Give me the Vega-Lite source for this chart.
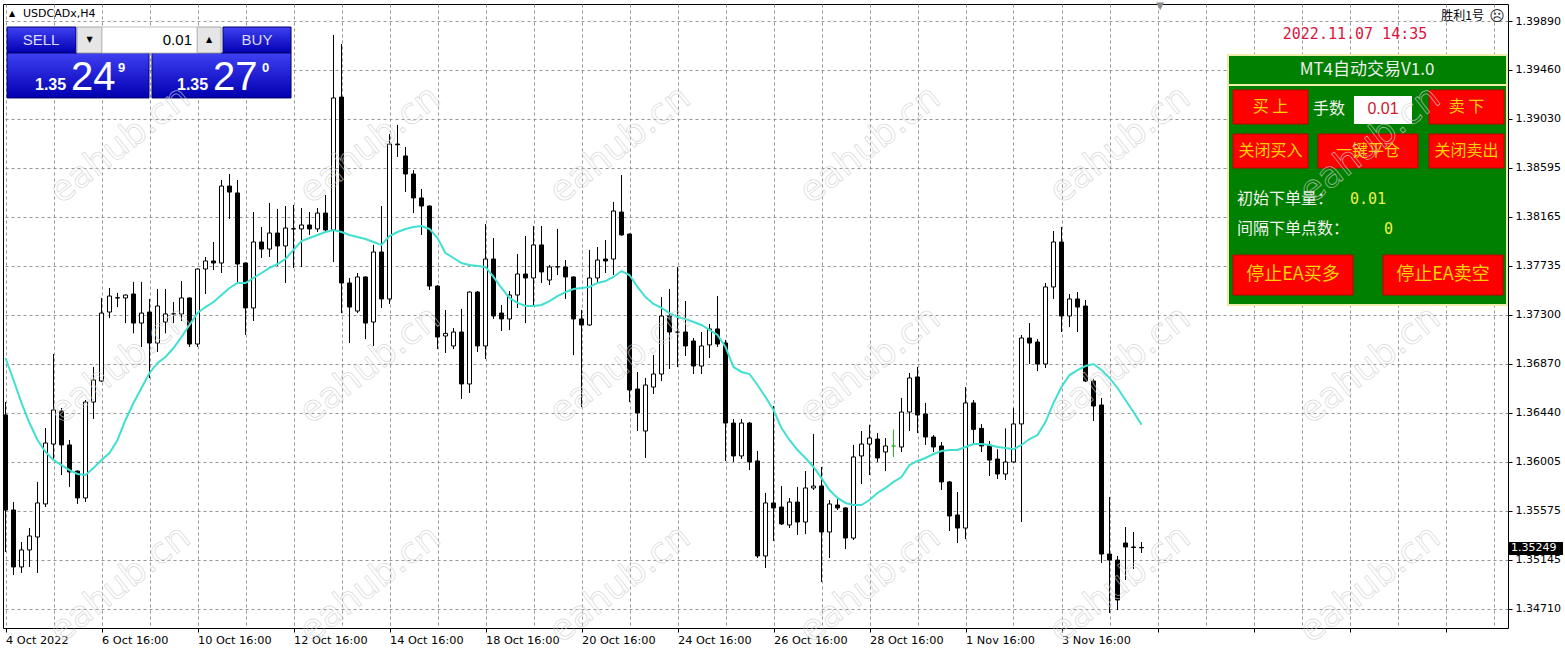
{
  "$schema": "https://vega.github.io/schema/vega-lite/v6.json",
  "width": 1505,
  "height": 624,
  "autosize": {"type": "none"},
  "padding": {"left": 3, "top": 4, "right": 57, "bottom": 26},
  "background": "white",
  "config": {
    "view": {"stroke": "black", "strokeWidth": 1},
    "scale": {"continuousPadding": 0},
    "axis": {
      "grid": true, "gridColor": "#959595", "gridDash": [3, 3], "gridWidth": 1,
      "domain": false, "tickColor": "black", "tickSize": 4,
      "labelFont": "DejaVu Sans", "labelFontSize": 11, "labelColor": "black",
      "labelFlush": false, "labelOverlap": false
    },
    "axisX": {"labelAlign": "left", "labelBaseline": "top", "labelPadding": 2, "labelFontSize": 11.3},
    "axisY": {"labelAlign": "left", "labelBaseline": "middle", "labelPadding": 3}
  },
  "datasets": {
    "bars": [
      {"i":0,"o":1.36419,"h":1.36533,"l":1.35212,"c":1.35582},
      {"i":1,"o":1.35582,"h":1.35652,"l":1.35009,"c":1.35080},
      {"i":2,"o":1.35080,"h":1.35300,"l":1.35027,"c":1.35230},
      {"i":3,"o":1.35230,"h":1.35423,"l":1.35080,"c":1.35353},
      {"i":4,"o":1.35344,"h":1.35829,"l":1.35027,"c":1.35644},
      {"i":5,"o":1.35635,"h":1.36304,"l":1.35608,"c":1.36172},
      {"i":6,"o":1.36163,"h":1.36956,"l":1.36022,"c":1.36463},
      {"i":7,"o":1.36454,"h":1.36481,"l":1.35890,"c":1.36155},
      {"i":8,"o":1.36155,"h":1.36199,"l":1.35785,"c":1.35917},
      {"i":9,"o":1.35925,"h":1.35930,"l":1.35635,"c":1.35688},
      {"i":10,"o":1.35688,"h":1.36551,"l":1.35652,"c":1.36533},
      {"i":11,"o":1.36533,"h":1.36842,"l":1.36384,"c":1.36727},
      {"i":12,"o":1.36718,"h":1.37450,"l":1.36710,"c":1.37317},
      {"i":13,"o":1.37326,"h":1.37538,"l":1.37273,"c":1.37467},
      {"i":14,"o":1.37452,"h":1.37494,"l":1.37370,"c":1.37450},
      {"i":15,"o":1.37450,"h":1.37480,"l":1.37229,"c":1.37476},
      {"i":16,"o":1.37485,"h":1.37591,"l":1.37138,"c":1.37229},
      {"i":17,"o":1.37229,"h":1.37591,"l":1.37018,"c":1.37317},
      {"i":18,"o":1.37326,"h":1.37441,"l":1.36745,"c":1.37053},
      {"i":19,"o":1.37053,"h":1.37529,"l":1.36974,"c":1.37379},
      {"i":20,"o":1.37238,"h":1.37529,"l":1.37138,"c":1.37309},
      {"i":21,"o":1.37309,"h":1.37414,"l":1.37229,"c":1.37311},
      {"i":22,"o":1.37309,"h":1.37599,"l":1.37247,"c":1.37450},
      {"i":23,"o":1.37450,"h":1.37455,"l":1.37018,"c":1.37044},
      {"i":24,"o":1.37044,"h":1.37710,"l":1.37018,"c":1.37705},
      {"i":25,"o":1.37705,"h":1.37811,"l":1.37485,"c":1.37776},
      {"i":26,"o":1.37776,"h":1.37943,"l":1.37696,"c":1.37758},
      {"i":27,"o":1.37758,"h":1.38489,"l":1.37670,"c":1.38436},
      {"i":28,"o":1.38436,"h":1.38542,"l":1.38146,"c":1.38383},
      {"i":29,"o":1.38375,"h":1.38489,"l":1.37582,"c":1.37749},
      {"i":30,"o":1.37758,"h":1.37763,"l":1.37124,"c":1.37362},
      {"i":31,"o":1.37362,"h":1.38207,"l":1.37247,"c":1.37943},
      {"i":32,"o":1.37943,"h":1.38075,"l":1.37802,"c":1.37881},
      {"i":33,"o":1.37881,"h":1.38287,"l":1.37811,"c":1.38022},
      {"i":34,"o":1.38022,"h":1.38234,"l":1.37732,"c":1.37908},
      {"i":35,"o":1.37908,"h":1.38260,"l":1.37582,"c":1.38066},
      {"i":36,"o":1.38058,"h":1.38269,"l":1.37714,"c":1.38060},
      {"i":37,"o":1.38058,"h":1.38242,"l":1.37723,"c":1.38093},
      {"i":38,"o":1.38093,"h":1.38207,"l":1.38005,"c":1.38058},
      {"i":39,"o":1.38058,"h":1.38242,"l":1.38031,"c":1.38198},
      {"i":40,"o":1.38198,"h":1.38357,"l":1.38022,"c":1.38049},
      {"i":41,"o":1.38049,"h":1.39767,"l":1.37767,"c":1.39212},
      {"i":42,"o":1.39220,"h":1.39687,"l":1.37317,"c":1.37582},
      {"i":43,"o":1.37582,"h":1.37626,"l":1.37053,"c":1.37370},
      {"i":44,"o":1.37335,"h":1.37670,"l":1.37317,"c":1.37635},
      {"i":45,"o":1.37635,"h":1.37640,"l":1.37088,"c":1.37229},
      {"i":46,"o":1.37238,"h":1.37917,"l":1.37027,"c":1.37855},
      {"i":47,"o":1.37855,"h":1.38260,"l":1.37362,"c":1.37441},
      {"i":48,"o":1.37441,"h":1.38894,"l":1.37397,"c":1.38806},
      {"i":49,"o":1.38806,"h":1.38974,"l":1.38692,"c":1.38800},
      {"i":50,"o":1.38701,"h":1.38780,"l":1.38383,"c":1.38542},
      {"i":51,"o":1.38542,"h":1.38577,"l":1.38198,"c":1.38331},
      {"i":52,"o":1.38331,"h":1.38410,"l":1.38005,"c":1.38260},
      {"i":53,"o":1.38260,"h":1.38265,"l":1.37520,"c":1.37555},
      {"i":54,"o":1.37555,"h":1.37564,"l":1.37000,"c":1.37106},
      {"i":55,"o":1.37115,"h":1.37344,"l":1.36965,"c":1.37138},
      {"i":56,"o":1.37027,"h":1.37185,"l":1.37000,"c":1.37150},
      {"i":57,"o":1.37150,"h":1.37353,"l":1.36560,"c":1.36692},
      {"i":58,"o":1.36692,"h":1.37507,"l":1.36613,"c":1.37502},
      {"i":59,"o":1.37502,"h":1.37511,"l":1.36974,"c":1.37027},
      {"i":60,"o":1.37027,"h":1.38101,"l":1.36912,"c":1.37793},
      {"i":61,"o":1.37793,"h":1.37978,"l":1.37265,"c":1.37291},
      {"i":62,"o":1.37317,"h":1.37388,"l":1.37159,"c":1.37265},
      {"i":63,"o":1.37265,"h":1.37511,"l":1.37168,"c":1.37476},
      {"i":64,"o":1.37476,"h":1.37837,"l":1.37362,"c":1.37661},
      {"i":65,"o":1.37661,"h":1.37996,"l":1.37229,"c":1.37626},
      {"i":66,"o":1.37626,"h":1.38084,"l":1.37379,"c":1.37917},
      {"i":67,"o":1.37917,"h":1.38084,"l":1.37582,"c":1.37679},
      {"i":68,"o":1.37608,"h":1.37740,"l":1.37564,"c":1.37723},
      {"i":69,"o":1.37723,"h":1.38058,"l":1.37652,"c":1.37725},
      {"i":70,"o":1.37723,"h":1.37784,"l":1.37441,"c":1.37635},
      {"i":71,"o":1.37635,"h":1.37640,"l":1.36947,"c":1.37265},
      {"i":72,"o":1.37265,"h":1.37344,"l":1.36489,"c":1.37212},
      {"i":73,"o":1.37212,"h":1.37873,"l":1.37205,"c":1.37626},
      {"i":74,"o":1.37626,"h":1.37899,"l":1.37582,"c":1.37784},
      {"i":75,"o":1.37793,"h":1.37961,"l":1.37670,"c":1.37776},
      {"i":76,"o":1.37793,"h":1.38295,"l":1.37652,"c":1.38216},
      {"i":77,"o":1.38207,"h":1.38533,"l":1.38000,"c":1.38005},
      {"i":78,"o":1.38013,"h":1.38018,"l":1.36533,"c":1.36639},
      {"i":79,"o":1.36648,"h":1.36798,"l":1.36278,"c":1.36437},
      {"i":80,"o":1.36278,"h":1.36745,"l":1.36040,"c":1.36683},
      {"i":81,"o":1.36665,"h":1.36947,"l":1.36604,"c":1.36780},
      {"i":82,"o":1.36780,"h":1.37458,"l":1.36718,"c":1.37291},
      {"i":83,"o":1.37291,"h":1.37529,"l":1.36824,"c":1.37150},
      {"i":84,"o":1.37150,"h":1.37723,"l":1.36842,"c":1.37148},
      {"i":85,"o":1.37150,"h":1.37423,"l":1.36939,"c":1.37027},
      {"i":86,"o":1.37071,"h":1.37097,"l":1.36780,"c":1.36850},
      {"i":87,"o":1.36850,"h":1.37150,"l":1.36780,"c":1.37027},
      {"i":88,"o":1.37036,"h":1.37221,"l":1.36921,"c":1.37177},
      {"i":89,"o":1.37177,"h":1.37467,"l":1.37018,"c":1.37044},
      {"i":90,"o":1.37053,"h":1.37080,"l":1.36014,"c":1.36348},
      {"i":91,"o":1.36348,"h":1.36384,"l":1.36005,"c":1.36058},
      {"i":92,"o":1.36058,"h":1.36384,"l":1.36031,"c":1.36348},
      {"i":93,"o":1.36348,"h":1.36357,"l":1.35934,"c":1.36005},
      {"i":94,"o":1.36014,"h":1.36102,"l":1.35159,"c":1.35177},
      {"i":95,"o":1.35177,"h":1.35732,"l":1.35071,"c":1.35644},
      {"i":96,"o":1.35644,"h":1.36498,"l":1.35309,"c":1.35600},
      {"i":97,"o":1.35608,"h":1.35793,"l":1.35450,"c":1.35459},
      {"i":98,"o":1.35450,"h":1.35688,"l":1.35423,"c":1.35652},
      {"i":99,"o":1.35652,"h":1.35785,"l":1.35362,"c":1.35476},
      {"i":100,"o":1.35476,"h":1.35925,"l":1.35370,"c":1.35776},
      {"i":101,"o":1.35776,"h":1.36251,"l":1.35758,"c":1.35793},
      {"i":102,"o":1.35793,"h":1.35961,"l":1.34948,"c":1.35388},
      {"i":103,"o":1.35388,"h":1.35670,"l":1.35159,"c":1.35635},
      {"i":104,"o":1.35626,"h":1.35688,"l":1.35582,"c":1.35600},
      {"i":105,"o":1.35600,"h":1.35605,"l":1.35238,"c":1.35335},
      {"i":106,"o":1.35335,"h":1.36155,"l":1.35318,"c":1.36049},
      {"i":107,"o":1.36058,"h":1.36278,"l":1.35811,"c":1.36163},
      {"i":108,"o":1.36163,"h":1.36333,"l":1.35890,"c":1.36216},
      {"i":109,"o":1.36207,"h":1.36260,"l":1.36005,"c":1.36040},
      {"i":110,"o":1.36093,"h":1.36216,"l":1.35925,"c":1.36146},
      {"i":111,"o":1.36146,"h":1.36292,"l":1.36049,"c":1.36146},
      {"i":112,"o":1.36137,"h":1.36569,"l":1.36093,"c":1.36445},
      {"i":113,"o":1.36445,"h":1.36789,"l":1.36278,"c":1.36745},
      {"i":114,"o":1.36754,"h":1.36842,"l":1.36260,"c":1.36419},
      {"i":115,"o":1.36428,"h":1.36525,"l":1.36155,"c":1.36225},
      {"i":116,"o":1.36225,"h":1.36242,"l":1.36093,"c":1.36137},
      {"i":117,"o":1.36146,"h":1.36181,"l":1.35758,"c":1.35829},
      {"i":118,"o":1.35829,"h":1.35837,"l":1.35397,"c":1.35529},
      {"i":119,"o":1.35538,"h":1.35740,"l":1.35291,"c":1.35423},
      {"i":120,"o":1.35423,"h":1.36665,"l":1.35326,"c":1.36525},
      {"i":121,"o":1.36525,"h":1.36551,"l":1.36155,"c":1.36292},
      {"i":122,"o":1.36301,"h":1.36340,"l":1.36093,"c":1.36146},
      {"i":123,"o":1.36155,"h":1.36190,"l":1.35881,"c":1.36022},
      {"i":124,"o":1.36031,"h":1.36118,"l":1.35855,"c":1.35899},
      {"i":125,"o":1.35899,"h":1.36301,"l":1.35846,"c":1.36005},
      {"i":126,"o":1.36005,"h":1.36481,"l":1.35996,"c":1.36340},
      {"i":127,"o":1.36340,"h":1.37124,"l":1.35476,"c":1.37097},
      {"i":128,"o":1.37097,"h":1.37229,"l":1.36868,"c":1.37053},
      {"i":129,"o":1.37062,"h":1.37088,"l":1.36806,"c":1.36868},
      {"i":130,"o":1.36868,"h":1.37582,"l":1.36833,"c":1.37547},
      {"i":131,"o":1.37547,"h":1.38040,"l":1.37441,"c":1.37943},
      {"i":132,"o":1.37943,"h":1.38075,"l":1.37150,"c":1.37291},
      {"i":133,"o":1.37291,"h":1.37485,"l":1.37194,"c":1.37441},
      {"i":134,"o":1.37441,"h":1.37502,"l":1.37150,"c":1.37370},
      {"i":135,"o":1.37379,"h":1.37432,"l":1.36710,"c":1.36718},
      {"i":136,"o":1.36718,"h":1.36736,"l":1.36366,"c":1.36498},
      {"i":137,"o":1.36507,"h":1.36569,"l":1.35115,"c":1.35194},
      {"i":138,"o":1.35194,"h":1.35696,"l":1.34674,"c":1.35141},
      {"i":139,"o":1.35141,"h":1.35177,"l":1.34701,"c":1.34789},
      {"i":140,"o":1.35291,"h":1.35432,"l":1.34965,"c":1.35256},
      {"i":141,"o":1.35256,"h":1.35388,"l":1.35062,"c":1.35252},
      {"i":142,"o":1.35252,"h":1.35300,"l":1.35203,"c":1.35249}
    ],
    "ma": [
      {"i":0,"p":1.36921},{"i":1,"p":1.36727},{"i":2,"p":1.36525},{"i":3,"p":1.36348},{"i":4,"p":1.36199},
      {"i":5,"p":1.36093},{"i":6,"p":1.36022},{"i":7,"p":1.35978},{"i":8,"p":1.35934},{"i":9,"p":1.35899},
      {"i":10,"p":1.35890},{"i":11,"p":1.35952},{"i":12,"p":1.36022},{"i":13,"p":1.36084},{"i":14,"p":1.36199},
      {"i":15,"p":1.36375},{"i":16,"p":1.36525},{"i":17,"p":1.36657},{"i":18,"p":1.36789},{"i":19,"p":1.36877},
      {"i":20,"p":1.36930},{"i":21,"p":1.37009},{"i":22,"p":1.37106},{"i":23,"p":1.37212},{"i":24,"p":1.37317},
      {"i":25,"p":1.37370},{"i":26,"p":1.37414},{"i":27,"p":1.37476},{"i":28,"p":1.37538},{"i":29,"p":1.37582},
      {"i":30,"p":1.37582},{"i":31,"p":1.37626},{"i":32,"p":1.37670},{"i":33,"p":1.37714},{"i":34,"p":1.37749},
      {"i":35,"p":1.37793},{"i":36,"p":1.37873},{"i":37,"p":1.37952},{"i":38,"p":1.37978},{"i":39,"p":1.38005},
      {"i":40,"p":1.38031},{"i":41,"p":1.38049},{"i":42,"p":1.38031},{"i":43,"p":1.38005},{"i":44,"p":1.37987},
      {"i":45,"p":1.37969},{"i":46,"p":1.37943},{"i":47,"p":1.37917},{"i":48,"p":1.37996},{"i":49,"p":1.38031},
      {"i":50,"p":1.38058},{"i":51,"p":1.38075},{"i":52,"p":1.38084},{"i":53,"p":1.38058},{"i":54,"p":1.37978},
      {"i":55,"p":1.37846},{"i":56,"p":1.37802},{"i":57,"p":1.37758},{"i":58,"p":1.37740},{"i":59,"p":1.37732},
      {"i":60,"p":1.37723},{"i":61,"p":1.37635},{"i":62,"p":1.37538},{"i":63,"p":1.37450},{"i":64,"p":1.37406},
      {"i":65,"p":1.37379},{"i":66,"p":1.37379},{"i":67,"p":1.37388},{"i":68,"p":1.37423},{"i":69,"p":1.37467},
      {"i":70,"p":1.37502},{"i":71,"p":1.37529},{"i":72,"p":1.37538},{"i":73,"p":1.37547},{"i":74,"p":1.37582},
      {"i":75,"p":1.37599},{"i":76,"p":1.37635},{"i":77,"p":1.37687},{"i":78,"p":1.37652},{"i":79,"p":1.37547},
      {"i":80,"p":1.37458},{"i":81,"p":1.37397},{"i":82,"p":1.37362},{"i":83,"p":1.37317},{"i":84,"p":1.37282},
      {"i":85,"p":1.37265},{"i":86,"p":1.37238},{"i":87,"p":1.37212},{"i":88,"p":1.37168},{"i":89,"p":1.37124},
      {"i":90,"p":1.37018},{"i":91,"p":1.36842},{"i":92,"p":1.36798},{"i":93,"p":1.36780},{"i":94,"p":1.36683},
      {"i":95,"p":1.36577},{"i":96,"p":1.36463},{"i":97,"p":1.36304},{"i":98,"p":1.36199},{"i":99,"p":1.36110},
      {"i":100,"p":1.36040},{"i":101,"p":1.35961},{"i":102,"p":1.35863},{"i":103,"p":1.35758},{"i":104,"p":1.35688},
      {"i":105,"p":1.35644},{"i":106,"p":1.35626},{"i":107,"p":1.35626},{"i":108,"p":1.35670},{"i":109,"p":1.35732},
      {"i":110,"p":1.35776},{"i":111,"p":1.35829},{"i":112,"p":1.35872},{"i":113,"p":1.35978},{"i":114,"p":1.36014},
      {"i":115,"p":1.36040},{"i":116,"p":1.36075},{"i":117,"p":1.36102},{"i":118,"p":1.36110},{"i":119,"p":1.36110},
      {"i":120,"p":1.36137},{"i":121,"p":1.36163},{"i":122,"p":1.36163},{"i":123,"p":1.36155},{"i":124,"p":1.36137},
      {"i":125,"p":1.36128},{"i":126,"p":1.36118},{"i":127,"p":1.36155},{"i":128,"p":1.36207},{"i":129,"p":1.36242},
      {"i":130,"p":1.36357},{"i":131,"p":1.36525},{"i":132,"p":1.36665},{"i":133,"p":1.36771},{"i":134,"p":1.36815},
      {"i":135,"p":1.36850},{"i":136,"p":1.36868},{"i":137,"p":1.36815},{"i":138,"p":1.36745},{"i":139,"p":1.36657},
      {"i":140,"p":1.36551},{"i":141,"p":1.36445},{"i":142,"p":1.36333}
    ],
    "blueBoxes": [
      {"i":0.19,"i2":8.81,"p":1.39837,"p2":1.39608},
      {"i":27.19,"i2":35.69,"p":1.39837,"p2":1.39608},
      {"i":0.19,"i2":17.94,"p":1.39608,"p2":1.39212},
      {"i":18.31,"i2":35.69,"p":1.39608,"p2":1.39212}
    ],
    "grayBoxes": [
      {"i":8.94,"i2":12.06,"p":1.39837,"p2":1.39608},
      {"i":23.94,"i2":26.94,"p":1.39837,"p2":1.39608}
    ],
    "whiteBoxes": [
      {"i":12.06,"i2":23.94,"p":1.39837,"p2":1.39608}
    ],
    "panelInput": [
      {"i":168.56,"i2":175.81,"p":1.39229,"p2":1.38983}
    ],
    "greenPanel": [{"i":152.81,"i2":187.69,"p":1.39590,"p2":1.37388}],
    "panelLine": [{"i":152.81,"i2":187.69,"p":1.39326}],
    "redButtons": [
      {"i":153.44,"i2":162.81,"p":1.39282,"p2":1.38983},
      {"i":177.94,"i2":187.31,"p":1.39282,"p2":1.38983},
      {"i":153.44,"i2":162.81,"p":1.38894,"p2":1.38595},
      {"i":164.06,"i2":176.56,"p":1.38894,"p2":1.38595},
      {"i":177.94,"i2":187.31,"p":1.38894,"p2":1.38595},
      {"i":153.44,"i2":168.44,"p":1.37828,"p2":1.37476},
      {"i":172.19,"i2":187.19,"p":1.37828,"p2":1.37476}
    ],
    "btnText": [
      {"i":158.13,"p":1.39132,"t":"买  上"},
      {"i":182.63,"p":1.39132,"t":"卖  下"},
      {"i":158.13,"p":1.38745,"t":"关闭买入"},
      {"i":170.31,"p":1.38745,"t":"一键平仓"},
      {"i":182.63,"p":1.38745,"t":"关闭卖出"}
    ],
    "btnTextBig": [
      {"i":160.94,"p":1.37652,"t":"停止EA买多"},
      {"i":179.69,"p":1.37652,"t":"停止EA卖空"}
    ],
    "panelText": [
      {"i":163.44,"p":1.39115,"t":"手数"},
      {"i":153.94,"p":1.38322,"t":"初始下单量："},
      {"i":153.94,"p":1.38058,"t":"间隔下单点数："}
    ],
    "panelValues": [
      {"i":168.06,"p":1.38322,"t":"0.01"},
      {"i":172.31,"p":1.38058,"t":"0"}
    ],
    "lotText": [{"i":172.19,"p":1.39115,"t":"0.01"}],
    "panelTitle": [{"i":170.19,"p":1.39458,"t":"MT4自动交易V1.0"}],
    "dateText": [{"i":168.69,"p":1.39775,"t":"2022.11.07 14:35"}],
    "eaName": [{"i":184.81,"p":1.39934,"t":"胜利1号"}],
    "face": [{"i":186.44,"p":1.39934,"t":"☹"}],
    "symbolMark": [{"i":0.81,"p":1.39952,"t":"▲"}],
    "symbol": [{"i":2.19,"p":1.39952,"t":"USDCADx,H4"}],
    "shiftMark": [{"i":144.31,"p":1.40022,"t":"▼"}],
    "tradeLabels": [
      {"i":4.44,"p":1.39723,"t":"SELL"},
      {"i":31.44,"p":1.39723,"t":"BUY"}
    ],
    "spinArrows": [
      {"i":10.5,"p":1.39723,"t":"▼"},
      {"i":25.44,"p":1.39723,"t":"▲"}
    ],
    "tradeLot": [{"i":23.31,"p":1.39723,"t":"0.01"}],
    "priceSmall": [
      {"i":3.69,"p":1.39282,"t":"1.35"},
      {"i":21.44,"p":1.39282,"t":"1.35"}
    ],
    "priceBig": [
      {"i":8.19,"p":1.39282,"t":"24"},
      {"i":25.94,"p":1.39282,"t":"27"}
    ],
    "priceSup": [
      {"i":14.06,"p":1.39441,"t":"9"},
      {"i":32.06,"p":1.39441,"t":"0"}
    ],
    "lastPrice": [{"i":187.94,"i2":194.69,"p":1.35300,"p2":1.35186,"ti":188.19,"tp":1.35249,"t":"1.35249"}],
    "wm": [
      {"i":14.31,"p":1.38800},{"i":45.56,"p":1.38800},{"i":76.81,"p":1.38800},{"i":108.06,"p":1.38800},{"i":139.31,"p":1.38800},{"i":170.56,"p":1.38800},
      {"i":14.31,"p":1.36859},{"i":45.56,"p":1.36859},{"i":76.81,"p":1.36859},{"i":108.06,"p":1.36859},{"i":139.31,"p":1.36859},{"i":170.56,"p":1.36859},
      {"i":14.31,"p":1.34930},{"i":45.56,"p":1.34930},{"i":76.81,"p":1.34930},{"i":108.06,"p":1.34930},{"i":139.31,"p":1.34930},{"i":170.56,"p":1.34930}
    ]
  },
  "layer": [
    {
      "data": {"name": "bars"},
      "mark": {"type": "rule", "strokeWidth": 1},
      "encoding": {
        "x": {
          "field": "i", "type": "quantitative", "title": null,
          "scale": {"domain": [-0.3125, 187.8125], "nice": false, "zero": false, "padding": 0},
          "axis": {
            "values": [0,6,12,18,24,30,36,42,48,54,60,66,72,78,84,90,96,102,108,114,120,126,132,138,144,150,156,162,168,174,180,186],
            "labelExpr": "datum.value % 12 === 0 ? (['4 Oct 2022','6 Oct 16:00','10 Oct 16:00','12 Oct 16:00','14 Oct 16:00','18 Oct 16:00','20 Oct 16:00','24 Oct 16:00','26 Oct 16:00','28 Oct 16:00','1 Nov 16:00','3 Nov 16:00'][datum.value / 12] || '') : ''",
            "tickOpacity": {"condition": {"test": "datum.value % 12 === 0", "value": 1}, "value": 0}
          }
        },
        "y": {
          "field": "l", "type": "quantitative", "title": null,
          "scale": {"domain": [1.345423, 1.400398], "nice": false, "zero": false, "padding": 0},
          "axis": {
            "orient": "right",
            "values": [1.3989, 1.3946, 1.3903, 1.38595, 1.38165, 1.37735, 1.373, 1.3687, 1.3644, 1.36005, 1.35575, 1.35145, 1.3471],
            "format": ".5f"
          }
        },
        "y2": {"field": "h"},
        "color": {"condition": {"test": "datum.i === 111", "value": "#22c022"}, "value": "black"}
      }
    },
    {
      "mark": {"type": "rule", "color": "#8a8a8a", "strokeWidth": 1},
      "encoding": {
        "y": {"datum": 1.35249, "type": "quantitative", "title": null, "scale": {"domain": [1.345423, 1.400398], "nice": false, "zero": false, "padding": 0}}
      }
    },
    {
      "data": {"name": "bars"},
      "mark": {"type": "bar", "size": 4, "strokeWidth": 1},
      "encoding": {
        "x": {"field": "i", "type": "quantitative", "title": null, "scale": {"domain": [-0.3125, 187.8125], "nice": false, "zero": false, "padding": 0}},
        "y": {"field": "o", "type": "quantitative", "title": null, "scale": {"domain": [1.345423, 1.400398], "nice": false, "zero": false, "padding": 0}},
        "y2": {"field": "c"},
        "fill": {"condition": {"test": "datum.c > datum.o", "value": "white"}, "value": "black"},
        "stroke": {"condition": {"test": "datum.i === 111", "value": "#22c022"}, "value": "black"}
      }
    },
    {
      "data": {"name": "ma"},
      "mark": {"type": "line", "color": "#40e0d0", "strokeWidth": 2},
      "encoding": {
        "x": {"field": "i", "type": "quantitative", "title": null, "scale": {"domain": [-0.3125, 187.8125], "nice": false, "zero": false, "padding": 0}},
        "y": {"field": "p", "type": "quantitative", "title": null, "scale": {"domain": [1.345423, 1.400398], "nice": false, "zero": false, "padding": 0}}
      }
    },
    {
      "data": {"name": "blueBoxes"},
      "mark": {
        "type": "rect", "stroke": "#000070", "strokeWidth": 1,
        "fill": {"gradient": "linear", "x1": 0, "y1": 0, "x2": 0, "y2": 1,
          "stops": [{"offset": 0, "color": "#4040f4"}, {"offset": 1, "color": "#0000b0"}]}
      },
      "encoding": {
        "x": {"field": "i", "type": "quantitative", "title": null, "scale": {"domain": [-0.3125, 187.8125], "nice": false, "zero": false, "padding": 0}},
        "x2": {"field": "i2"},
        "y": {"field": "p", "type": "quantitative", "title": null, "scale": {"domain": [1.345423, 1.400398], "nice": false, "zero": false, "padding": 0}},
        "y2": {"field": "p2"}
      }
    },
    {
      "data": {"name": "grayBoxes"},
      "mark": {"type": "rect", "fill": "#e6e6e6", "stroke": "#a8a8a8", "strokeWidth": 1},
      "encoding": {
        "x": {"field": "i", "type": "quantitative", "title": null, "scale": {"domain": [-0.3125, 187.8125], "nice": false, "zero": false, "padding": 0}},
        "x2": {"field": "i2"},
        "y": {"field": "p", "type": "quantitative", "title": null, "scale": {"domain": [1.345423, 1.400398], "nice": false, "zero": false, "padding": 0}},
        "y2": {"field": "p2"}
      }
    },
    {
      "data": {"name": "greenPanel"},
      "mark": {"type": "rect", "fill": "#008000", "stroke": "#eeeeaa", "strokeWidth": 2},
      "encoding": {
        "x": {"field": "i", "type": "quantitative", "title": null, "scale": {"domain": [-0.3125, 187.8125], "nice": false, "zero": false, "padding": 0}},
        "x2": {"field": "i2"},
        "y": {"field": "p", "type": "quantitative", "title": null, "scale": {"domain": [1.345423, 1.400398], "nice": false, "zero": false, "padding": 0}},
        "y2": {"field": "p2"}
      }
    },
    {
      "data": {"name": "panelLine"},
      "mark": {"type": "rule", "color": "#eeeeaa", "strokeWidth": 2},
      "encoding": {
        "x": {"field": "i", "type": "quantitative", "title": null, "scale": {"domain": [-0.3125, 187.8125], "nice": false, "zero": false, "padding": 0}},
        "x2": {"field": "i2"},
        "y": {"field": "p", "type": "quantitative", "title": null, "scale": {"domain": [1.345423, 1.400398], "nice": false, "zero": false, "padding": 0}}
      }
    },
    {
      "data": {"name": "whiteBoxes"},
      "mark": {"type": "rect", "fill": "white", "stroke": "#c0c0c0", "strokeWidth": 1},
      "encoding": {
        "x": {"field": "i", "type": "quantitative", "title": null, "scale": {"domain": [-0.3125, 187.8125], "nice": false, "zero": false, "padding": 0}},
        "x2": {"field": "i2"},
        "y": {"field": "p", "type": "quantitative", "title": null, "scale": {"domain": [1.345423, 1.400398], "nice": false, "zero": false, "padding": 0}},
        "y2": {"field": "p2"}
      }
    },
    {
      "data": {"name": "panelInput"},
      "mark": {"type": "rect", "fill": "white"},
      "encoding": {
        "x": {"field": "i", "type": "quantitative", "title": null, "scale": {"domain": [-0.3125, 187.8125], "nice": false, "zero": false, "padding": 0}},
        "x2": {"field": "i2"},
        "y": {"field": "p", "type": "quantitative", "title": null, "scale": {"domain": [1.345423, 1.400398], "nice": false, "zero": false, "padding": 0}},
        "y2": {"field": "p2"}
      }
    },
    {
      "data": {"name": "redButtons"},
      "mark": {"type": "rect", "fill": "#ff0000", "stroke": "#c00000", "strokeWidth": 1},
      "encoding": {
        "x": {"field": "i", "type": "quantitative", "title": null, "scale": {"domain": [-0.3125, 187.8125], "nice": false, "zero": false, "padding": 0}},
        "x2": {"field": "i2"},
        "y": {"field": "p", "type": "quantitative", "title": null, "scale": {"domain": [1.345423, 1.400398], "nice": false, "zero": false, "padding": 0}},
        "y2": {"field": "p2"}
      }
    },
    {
      "data": {"name": "lastPrice"},
      "mark": {"type": "rect", "fill": "black"},
      "encoding": {
        "x": {"field": "i", "type": "quantitative", "title": null, "scale": {"domain": [-0.3125, 187.8125], "nice": false, "zero": false, "padding": 0}},
        "x2": {"field": "i2"},
        "y": {"field": "p", "type": "quantitative", "title": null, "scale": {"domain": [1.345423, 1.400398], "nice": false, "zero": false, "padding": 0}},
        "y2": {"field": "p2"}
      }
    },
    {
      "data": {"name": "lastPrice"},
      "mark": {"type": "text", "font": "DejaVu Sans", "fontSize": 11, "color": "white", "align": "left", "baseline": "middle"},
      "encoding": {
        "x": {"field": "ti", "type": "quantitative", "title": null, "scale": {"domain": [-0.3125, 187.8125], "nice": false, "zero": false, "padding": 0}},
        "y": {"field": "tp", "type": "quantitative", "title": null, "scale": {"domain": [1.345423, 1.400398], "nice": false, "zero": false, "padding": 0}},
        "text": {"field": "t"}
      }
    },
    {
      "data": {"name": "btnText"},
      "mark": {"type": "text", "font": "Noto Sans CJK SC", "fontSize": 16, "color": "#ffd200", "align": "center", "baseline": "middle"},
      "encoding": {
        "x": {"field": "i", "type": "quantitative", "title": null, "scale": {"domain": [-0.3125, 187.8125], "nice": false, "zero": false, "padding": 0}},
        "y": {"field": "p", "type": "quantitative", "title": null, "scale": {"domain": [1.345423, 1.400398], "nice": false, "zero": false, "padding": 0}},
        "text": {"field": "t"}
      }
    },
    {
      "data": {"name": "btnTextBig"},
      "mark": {"type": "text", "font": "Noto Sans CJK SC", "fontSize": 18, "color": "#ffd200", "align": "center", "baseline": "middle"},
      "encoding": {
        "x": {"field": "i", "type": "quantitative", "title": null, "scale": {"domain": [-0.3125, 187.8125], "nice": false, "zero": false, "padding": 0}},
        "y": {"field": "p", "type": "quantitative", "title": null, "scale": {"domain": [1.345423, 1.400398], "nice": false, "zero": false, "padding": 0}},
        "text": {"field": "t"}
      }
    },
    {
      "data": {"name": "panelText"},
      "mark": {"type": "text", "font": "Noto Sans CJK SC", "fontSize": 16, "color": "#f2f2f2", "align": "left", "baseline": "middle"},
      "encoding": {
        "x": {"field": "i", "type": "quantitative", "title": null, "scale": {"domain": [-0.3125, 187.8125], "nice": false, "zero": false, "padding": 0}},
        "y": {"field": "p", "type": "quantitative", "title": null, "scale": {"domain": [1.345423, 1.400398], "nice": false, "zero": false, "padding": 0}},
        "text": {"field": "t"}
      }
    },
    {
      "data": {"name": "panelValues"},
      "mark": {"type": "text", "font": "DejaVu Sans Mono", "fontSize": 15, "color": "#eef050", "align": "left", "baseline": "middle"},
      "encoding": {
        "x": {"field": "i", "type": "quantitative", "title": null, "scale": {"domain": [-0.3125, 187.8125], "nice": false, "zero": false, "padding": 0}},
        "y": {"field": "p", "type": "quantitative", "title": null, "scale": {"domain": [1.345423, 1.400398], "nice": false, "zero": false, "padding": 0}},
        "text": {"field": "t"}
      }
    },
    {
      "data": {"name": "lotText"},
      "mark": {"type": "text", "font": "Liberation Sans", "fontSize": 16, "color": "#d01830", "align": "center", "baseline": "middle"},
      "encoding": {
        "x": {"field": "i", "type": "quantitative", "title": null, "scale": {"domain": [-0.3125, 187.8125], "nice": false, "zero": false, "padding": 0}},
        "y": {"field": "p", "type": "quantitative", "title": null, "scale": {"domain": [1.345423, 1.400398], "nice": false, "zero": false, "padding": 0}},
        "text": {"field": "t"}
      }
    },
    {
      "data": {"name": "panelTitle"},
      "mark": {"type": "text", "font": "Noto Sans CJK SC", "fontSize": 17, "color": "#eeeeee", "align": "center", "baseline": "middle"},
      "encoding": {
        "x": {"field": "i", "type": "quantitative", "title": null, "scale": {"domain": [-0.3125, 187.8125], "nice": false, "zero": false, "padding": 0}},
        "y": {"field": "p", "type": "quantitative", "title": null, "scale": {"domain": [1.345423, 1.400398], "nice": false, "zero": false, "padding": 0}},
        "text": {"field": "t"}
      }
    },
    {
      "data": {"name": "dateText"},
      "mark": {"type": "text", "font": "DejaVu Sans Mono", "fontSize": 15, "color": "#dc143c", "align": "center", "baseline": "middle"},
      "encoding": {
        "x": {"field": "i", "type": "quantitative", "title": null, "scale": {"domain": [-0.3125, 187.8125], "nice": false, "zero": false, "padding": 0}},
        "y": {"field": "p", "type": "quantitative", "title": null, "scale": {"domain": [1.345423, 1.400398], "nice": false, "zero": false, "padding": 0}},
        "text": {"field": "t"}
      }
    },
    {
      "data": {"name": "eaName"},
      "mark": {"type": "text", "font": "Noto Sans CJK SC", "fontSize": 12, "color": "black", "align": "right", "baseline": "middle"},
      "encoding": {
        "x": {"field": "i", "type": "quantitative", "title": null, "scale": {"domain": [-0.3125, 187.8125], "nice": false, "zero": false, "padding": 0}},
        "y": {"field": "p", "type": "quantitative", "title": null, "scale": {"domain": [1.345423, 1.400398], "nice": false, "zero": false, "padding": 0}},
        "text": {"field": "t"}
      }
    },
    {
      "data": {"name": "face"},
      "mark": {"type": "text", "font": "DejaVu Sans", "fontSize": 15, "color": "#333333", "align": "center", "baseline": "middle"},
      "encoding": {
        "x": {"field": "i", "type": "quantitative", "title": null, "scale": {"domain": [-0.3125, 187.8125], "nice": false, "zero": false, "padding": 0}},
        "y": {"field": "p", "type": "quantitative", "title": null, "scale": {"domain": [1.345423, 1.400398], "nice": false, "zero": false, "padding": 0}},
        "text": {"field": "t"}
      }
    },
    {
      "data": {"name": "symbolMark"},
      "mark": {"type": "text", "font": "DejaVu Sans", "fontSize": 8, "color": "black", "align": "center", "baseline": "middle"},
      "encoding": {
        "x": {"field": "i", "type": "quantitative", "title": null, "scale": {"domain": [-0.3125, 187.8125], "nice": false, "zero": false, "padding": 0}},
        "y": {"field": "p", "type": "quantitative", "title": null, "scale": {"domain": [1.345423, 1.400398], "nice": false, "zero": false, "padding": 0}},
        "text": {"field": "t"}
      }
    },
    {
      "data": {"name": "symbol"},
      "mark": {"type": "text", "font": "DejaVu Sans", "fontSize": 11, "color": "black", "align": "left", "baseline": "middle"},
      "encoding": {
        "x": {"field": "i", "type": "quantitative", "title": null, "scale": {"domain": [-0.3125, 187.8125], "nice": false, "zero": false, "padding": 0}},
        "y": {"field": "p", "type": "quantitative", "title": null, "scale": {"domain": [1.345423, 1.400398], "nice": false, "zero": false, "padding": 0}},
        "text": {"field": "t"}
      }
    },
    {
      "data": {"name": "shiftMark"},
      "mark": {"type": "text", "font": "DejaVu Sans", "fontSize": 10, "color": "#8c8c8c", "align": "center", "baseline": "middle"},
      "encoding": {
        "x": {"field": "i", "type": "quantitative", "title": null, "scale": {"domain": [-0.3125, 187.8125], "nice": false, "zero": false, "padding": 0}},
        "y": {"field": "p", "type": "quantitative", "title": null, "scale": {"domain": [1.345423, 1.400398], "nice": false, "zero": false, "padding": 0}},
        "text": {"field": "t"}
      }
    },
    {
      "data": {"name": "tradeLabels"},
      "mark": {"type": "text", "font": "Liberation Sans", "fontSize": 15, "color": "#dcdcf2", "align": "center", "baseline": "middle"},
      "encoding": {
        "x": {"field": "i", "type": "quantitative", "title": null, "scale": {"domain": [-0.3125, 187.8125], "nice": false, "zero": false, "padding": 0}},
        "y": {"field": "p", "type": "quantitative", "title": null, "scale": {"domain": [1.345423, 1.400398], "nice": false, "zero": false, "padding": 0}},
        "text": {"field": "t"}
      }
    },
    {
      "data": {"name": "spinArrows"},
      "mark": {"type": "text", "font": "DejaVu Sans", "fontSize": 8, "color": "black", "align": "center", "baseline": "middle"},
      "encoding": {
        "x": {"field": "i", "type": "quantitative", "title": null, "scale": {"domain": [-0.3125, 187.8125], "nice": false, "zero": false, "padding": 0}},
        "y": {"field": "p", "type": "quantitative", "title": null, "scale": {"domain": [1.345423, 1.400398], "nice": false, "zero": false, "padding": 0}},
        "text": {"field": "t"}
      }
    },
    {
      "data": {"name": "tradeLot"},
      "mark": {"type": "text", "font": "Liberation Sans", "fontSize": 15, "color": "black", "align": "right", "baseline": "middle"},
      "encoding": {
        "x": {"field": "i", "type": "quantitative", "title": null, "scale": {"domain": [-0.3125, 187.8125], "nice": false, "zero": false, "padding": 0}},
        "y": {"field": "p", "type": "quantitative", "title": null, "scale": {"domain": [1.345423, 1.400398], "nice": false, "zero": false, "padding": 0}},
        "text": {"field": "t"}
      }
    },
    {
      "data": {"name": "priceSmall"},
      "mark": {"type": "text", "font": "Liberation Sans", "fontSize": 16, "fontWeight": "bold", "color": "white", "align": "left", "baseline": "alphabetic"},
      "encoding": {
        "x": {"field": "i", "type": "quantitative", "title": null, "scale": {"domain": [-0.3125, 187.8125], "nice": false, "zero": false, "padding": 0}},
        "y": {"field": "p", "type": "quantitative", "title": null, "scale": {"domain": [1.345423, 1.400398], "nice": false, "zero": false, "padding": 0}},
        "text": {"field": "t"}
      }
    },
    {
      "data": {"name": "priceBig"},
      "mark": {"type": "text", "font": "Liberation Sans", "fontSize": 40, "color": "white", "align": "left", "baseline": "alphabetic"},
      "encoding": {
        "x": {"field": "i", "type": "quantitative", "title": null, "scale": {"domain": [-0.3125, 187.8125], "nice": false, "zero": false, "padding": 0}},
        "y": {"field": "p", "type": "quantitative", "title": null, "scale": {"domain": [1.345423, 1.400398], "nice": false, "zero": false, "padding": 0}},
        "text": {"field": "t"}
      }
    },
    {
      "data": {"name": "priceSup"},
      "mark": {"type": "text", "font": "Liberation Sans", "fontSize": 13, "fontWeight": "bold", "color": "white", "align": "left", "baseline": "alphabetic"},
      "encoding": {
        "x": {"field": "i", "type": "quantitative", "title": null, "scale": {"domain": [-0.3125, 187.8125], "nice": false, "zero": false, "padding": 0}},
        "y": {"field": "p", "type": "quantitative", "title": null, "scale": {"domain": [1.345423, 1.400398], "nice": false, "zero": false, "padding": 0}},
        "text": {"field": "t"}
      }
    },
    {
      "data": {"name": "wm"},
      "mark": {"type": "text", "text": "eahub.cn", "font": "DejaVu Sans", "fontSize": 36, "angle": -38, "align": "center", "baseline": "middle", "fill": "white", "fillOpacity": 0, "stroke": "#cfcfcf", "strokeWidth": 0.8, "strokeOpacity": 0.75},
      "encoding": {
        "x": {"field": "i", "type": "quantitative", "title": null, "scale": {"domain": [-0.3125, 187.8125], "nice": false, "zero": false, "padding": 0}},
        "y": {"field": "p", "type": "quantitative", "title": null, "scale": {"domain": [1.345423, 1.400398], "nice": false, "zero": false, "padding": 0}}
      }
    }
  ]
}
